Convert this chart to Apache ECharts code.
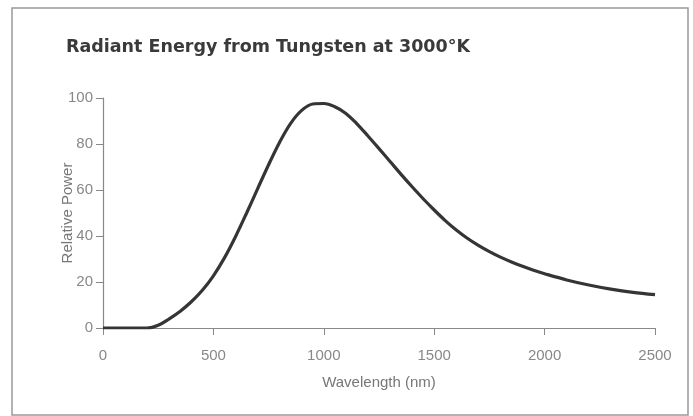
<!DOCTYPE html>
<html>
<head>
<meta charset="utf-8">
<script src="https://cdn.jsdelivr.net/npm/echarts@6/dist/echarts.min.js"></script>
<style>
  html, body { margin: 0; padding: 0; background: #fff; }
  #main { width: 693px; height: 416px; }
</style>
</head>
<body>
<div id="main"></div>
<script>
// wavelength in nm
var wavelength = [0, 100, 200, 250, 300, 350, 400, 450, 500, 550, 600, 650, 700, 750, 800, 850,
    900, 950, 1000, 1050, 1100, 1150, 1200, 1250, 1300, 1350, 1400, 1450, 1500, 1550, 1600,
    1650, 1700, 1750, 1800, 1850, 1900, 1950, 2000, 2100, 2200, 2300, 2400, 2500];
var relPower = [0, 0, 0, 1.2, 4.0, 7.3, 11.4, 16.4, 22.7, 30.5, 39.7, 49.9, 60.5, 71, 80.8, 89.0,
    94.6, 97.4, 97.6, 96.2, 93.3, 88.8, 83.5, 78, 72.4, 66.8, 61.4, 56.2, 51.3, 46.7, 42.6,
    39, 35.9, 33.2, 30.8, 28.7, 26.8, 25.1, 23.6, 20.9, 18.7, 16.9, 15.5, 14.5];
var xTicks = [0, 500, 1000, 1500, 2000, 2500];
var yTicks = [0, 20, 40, 60, 80, 100];

var chart = echarts.init(document.getElementById('main'));

var pts = [];
for (var i = 0; i < wavelength.length; i++) {
    pts.push([wavelength[i], relPower[i]]);
}

var labelFont = 'Liberation Sans, Arial, sans-serif';

var option = {
    backgroundColor: '#fff',
    animation: false,
    title: {
        text: 'Radiant Energy from Tungsten at 3000°K',
        left: 61,
        top: 33,
        textStyle: { fontFamily: 'DejaVu Sans', fontSize: 17.5, fontWeight: 'bold', color: '#3a3a3a' }
    },
    grid: { left: 103, right: 38, top: 98, bottom: 88 },
    xAxis: {
        type: 'value',
        min: xTicks[0],
        max: xTicks[xTicks.length - 1],
        interval: 500,
        name: 'Wavelength (nm)',
        nameLocation: 'middle',
        nameGap: 47,
        nameTextStyle: { fontFamily: labelFont, fontSize: 15, color: '#777' },
        axisLine: { lineStyle: { color: '#888', width: 1.2 } },
        axisTick: { show: true, length: 7, inside: false, lineStyle: { color: '#888' } },
        axisLabel: {
            fontFamily: labelFont, fontSize: 15, color: '#888', margin: 20,
            formatter: function (v) { return String(v); }
        },
        splitLine: { show: false }
    },
    yAxis: {
        type: 'value',
        min: yTicks[0],
        max: yTicks[yTicks.length - 1],
        interval: 20,
        name: 'Relative Power',
        nameLocation: 'middle',
        nameGap: 28,
        nameRotate: 90,
        nameMoveOverlap: false,
        nameTextStyle: { fontFamily: labelFont, fontSize: 15, color: '#777' },
        axisLine: { show: true, lineStyle: { color: '#888', width: 1.2 } },
        axisTick: { show: true, length: 7, lineStyle: { color: '#888' } },
        axisLabel: { fontFamily: labelFont, fontSize: 15, color: '#888', margin: 10 },
        splitLine: { show: false }
    },
    series: [{
        type: 'line',
        data: pts,
        smooth: 0.35,
        showSymbol: false,
        lineStyle: { color: '#353535', width: 3.2 }
    }],
    graphic: [{
        type: 'rect',
        shape: { x: 12, y: 8, width: 676, height: 407 },
        style: { fill: 'none', stroke: '#999', lineWidth: 1.5 },
        silent: true
    }]
};

chart.setOption(option);
</script>
</body>
</html>
